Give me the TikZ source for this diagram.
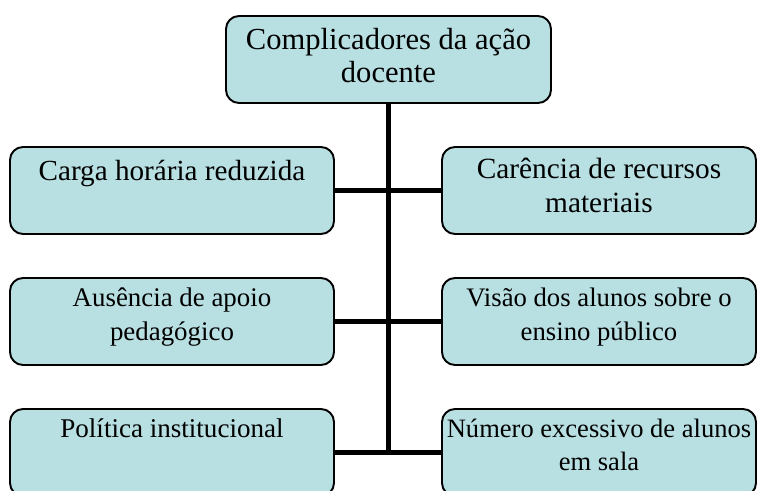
\documentclass[tikz,border=0pt]{standalone}
\usepackage{fontspec}
\setmainfont{Liberation Serif}
\definecolor{boxfill}{RGB}{184,223,226}
% text set from the top of a box: width, size, first baseline, text
\newcommand{\boxtext}[4]{\parbox[c][1.74cm][t]{#1}{\centering\fontsize{#2}{19pt}\selectfont\rule{0pt}{#3}#4}}

\begin{document}
\begin{tikzpicture}[
		box/.style={draw,line width=1.1pt,fill=boxfill,rounded corners=0.26cm,inner sep=0pt,minimum height=1.74cm},
		link/.style={line width=3.4pt}]
		\useasboundingbox (0,0) rectangle (15.14,-9.82);
		\node[box,minimum width=6.5cm]  (topo)     at (7.77,-1.19)  {\boxtext{6.3cm}{17.4pt}{18.8pt}{Complicadores da ação\\docente}};
		\node[box,minimum width=6.48cm] (carga)    at (3.44,-3.81)  {\boxtext{6.3cm}{16.6pt}{18.8pt}{Carga horária reduzida}};
		\node[box,minimum width=6.28cm] (carencia) at (11.98,-3.81) {\boxtext{6.2cm}{16.7pt}{18.2pt}{Carência de recursos\\materiais}};
		\node[box,minimum width=6.48cm] (ausencia) at (3.44,-6.43)  {\boxtext{6.3cm}{15.3pt}{16.5pt}{Ausência de apoio\\pedagógico}};
		\node[box,minimum width=6.28cm] (visao)    at (11.98,-6.43) {\boxtext{6.2cm}{15.2pt}{16.5pt}{Visão dos alunos sobre o\\ensino público}};
		\node[box,minimum width=6.48cm] (politica) at (3.44,-9.05)  {\boxtext{6.3cm}{15.4pt}{16.5pt}{Política institucional}};
		\node[box,minimum width=6.28cm] (numero)   at (11.98,-9.05) {\boxtext{6.2cm}{15.1pt}{16pt}{Número excessivo de alunos\\em sala}};
		
		\draw[link] (topo.south) -- (topo.south |- politica.east);
		\draw[link] (carga.east) -- (carencia.west);
		\draw[link] (ausencia.east) -- (visao.west);
		\draw[link] (politica.east) -- (numero.west);
	\end{tikzpicture}
\end{document}
